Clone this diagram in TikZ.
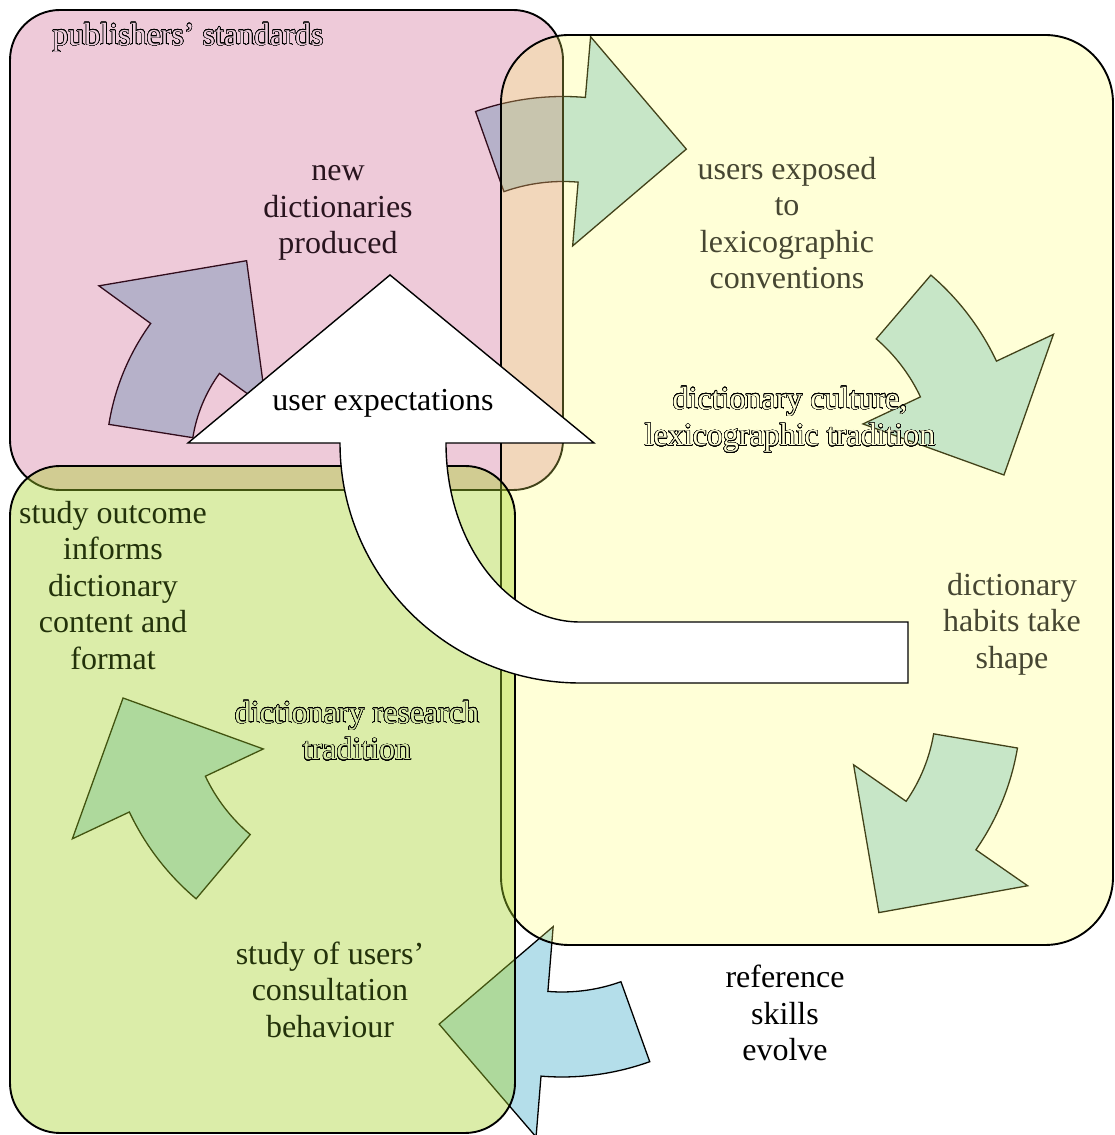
\documentclass[tikz,border=0pt]{standalone}
\usepackage{fontspec}
\setmainfont{Liberation Serif}
\usepackage{contour}
\contourlength{0.55pt}
\contournumber{32}
\definecolor{arrowfill}{RGB}{180,222,234}
\definecolor{pinkbox}{RGB}{190,50,110}
\definecolor{yellowbox}{RGB}{255,255,100}
\definecolor{greenbox}{RGB}{165,210,40}
\definecolor{txtpink}{RGB}{40,20,30}
\definecolor{txtyellow}{RGB}{70,70,50}
\definecolor{txtgreen}{RGB}{35,50,10}
\definecolor{inpink}{RGB}{237,205,220}
\definecolor{inyellow}{RGB}{255,255,215}
\definecolor{ingreen}{RGB}{218,236,168}
\newcommand{\cyclearrow}[9]{%
  \begin{scope}[shift={(#1)}]
  \draw[blockarrow] (#4:#3pt) arc[start angle=#4, end angle=#5, radius=#3pt]
    -- (#5:#7pt) -- (#8:#9pt) -- (#5:#6pt) -- (#5:#2pt)
    arc[start angle=#5, end angle=#4, radius=#2pt] -- cycle;
  \end{scope}}
\newcommand{\outl}[2]{\contour{black}{\textcolor{#1}{#2}}}
\begin{document}
\begin{tikzpicture}[x=1pt,y=1pt,
  blockarrow/.style={fill=arrowfill, draw=black, line width=1.3pt, line join=miter},
  boxstyle/.style={draw=black, line width=1.9pt, rounded corners=#1},
  lbl/.style={font=\fontsize{32}{36.5}\selectfont, align=center, inner sep=0pt},
  whitearrow/.style={fill=white, draw=black, line width=1.4pt}]
\useasboundingbox (0,0) rectangle (1115,1135);
% arrow centres
\coordinate (cA) at (340,674);
\coordinate (cB) at (563,776.5);
\coordinate (cC) at (763,664);
\coordinate (cD) at (769,429);
\coordinate (cE) at (562,317);
\coordinate (cF) at (361,432);
% curved arrows of the cycle
\cyclearrow{cA}{149}{234}{171}{144}{91}{298}{115}{221}
\cyclearrow{cB}{177}{262}{109.5}{85.1}{113}{323}{59.5}{243}
\cyclearrow{cC}{174}{258}{49.4}{25.2}{110.5}{321}{-0.95}{241}
\cyclearrow{cD}{167}{252}{-9.6}{-34.8}{103}{315}{-62}{234}
\cyclearrow{cE}{174}{259}{-70.2}{-94.65}{109}{320}{-120.8}{240}
\cyclearrow{cF}{172}{256}{229.9}{205.2}{108}{319}{178.8}{238}
% the three areas
\draw[boxstyle=50pt, fill=pinkbox, fill opacity=0.26] (10,645) rectangle (563,1125);
\draw[boxstyle=68pt, fill=yellowbox, fill opacity=0.26] (501,190) rectangle (1113,1100);
\draw[boxstyle=50pt, fill=greenbox, fill opacity=0.4] (10,2) rectangle (515,669);
% big white arrow
\draw[whitearrow] (340,692) -- (188,692) -- (390,860) -- (594,692) -- (446,692)
  arc[start angle=180, end angle=270, x radius=134pt, y radius=179pt]
  -- (908,513) -- (908,452) -- (580,452)
  arc[start angle=270, end angle=180, radius=240pt] -- cycle;
% labels
\node[lbl] (pub) at (188,1097) {\outl{inpink}{publishers’ standards}};
\node[lbl, text=txtpink] (newd) at (338,922) {new\\dictionaries\\produced};
\node[lbl, text=txtyellow] (users) at (787,912) {users exposed\\to\\lexicographic\\conventions};
\node[lbl] (cult) at (790,715) {\outl{inyellow}{dictionary culture,}\\\outl{inyellow}{lexicographic tradition}};
\node[lbl] (uexp) at (383,732) {user expectations};
\node[lbl, text=txtyellow] (habits) at (1012,511) {dictionary\\habits take\\shape};
\node[lbl, text=txtgreen] (outc) at (113,549.5) {study outcome\\informs\\dictionary\\content and\\format};
\node[lbl] (res) at (357,404) {\outl{ingreen}{dictionary research}\\\outl{ingreen}{tradition}};
\node[lbl, text=txtgreen] (stud) at (330,145.5) {study of users’\\consultation\\behaviour};
\node[lbl] (ref) at (785,122) {reference\\skills\\evolve};
\end{tikzpicture}
\end{document}
